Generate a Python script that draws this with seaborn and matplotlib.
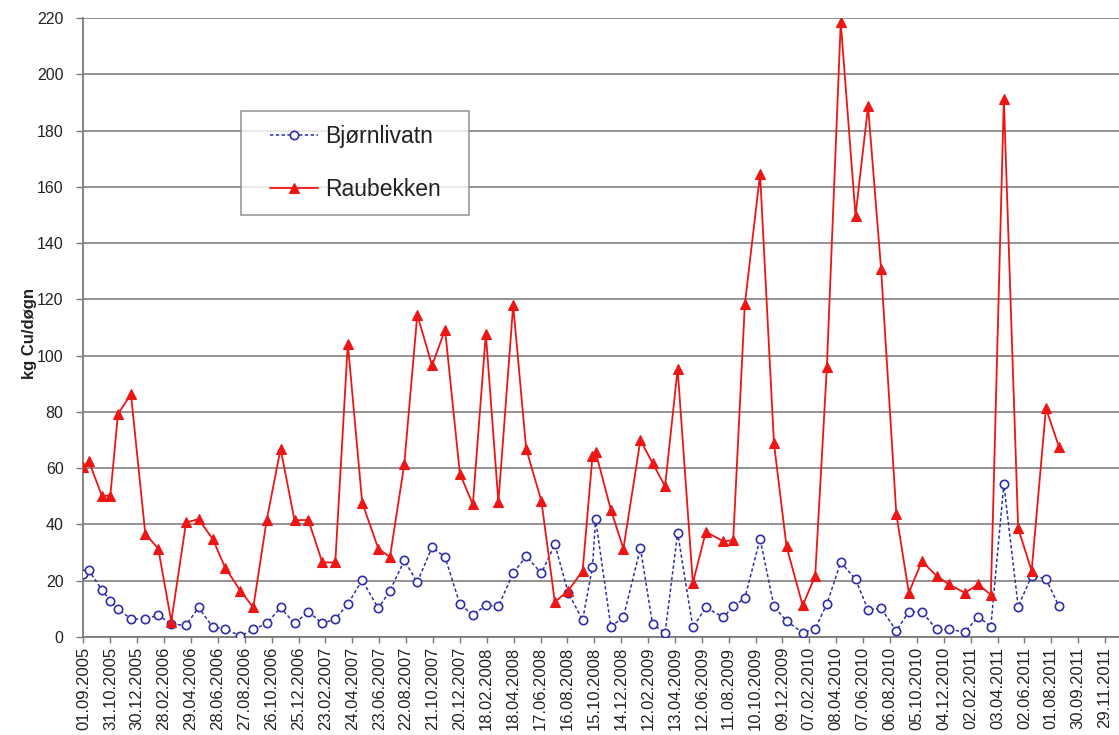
import numpy as np
import pandas as pd
import matplotlib
matplotlib.use("Agg")
import matplotlib.pyplot as plt
from matplotlib.legend_handler import HandlerLine2D
import seaborn as sns

# ---------------- data ----------------
dates = [
    "2005-09-01", "2005-09-13", "2005-10-12", "2005-10-31", "2005-11-17", "2005-12-16",
    "2006-01-17", "2006-02-15", "2006-03-16", "2006-04-18", "2006-05-16", "2006-06-17",
    "2006-07-14", "2006-08-17", "2006-09-15", "2006-10-15", "2006-11-15", "2006-12-16",
    "2007-01-16", "2007-02-16", "2007-03-17", "2007-04-14", "2007-05-16", "2007-06-21",
    "2007-07-17", "2007-08-18", "2007-09-16", "2007-10-19", "2007-11-17", "2007-12-20",
    "2008-01-18", "2008-02-16", "2008-03-15", "2008-04-17", "2008-05-16", "2008-06-19",
    "2008-07-19", "2008-08-18", "2008-09-19", "2008-10-11", "2008-10-18", "2008-11-21",
    "2008-12-19", "2009-01-26", "2009-02-22", "2009-03-22", "2009-04-19", "2009-05-23",
    "2009-06-21", "2009-07-30", "2009-08-21", "2009-09-16", "2009-10-20", "2009-11-20",
    "2009-12-18", "2010-01-23", "2010-02-20", "2010-03-18", "2010-04-18", "2010-05-21",
    "2010-06-18", "2010-07-17", "2010-08-20", "2010-09-17", "2010-10-16", "2010-11-18",
    "2010-12-16", "2011-01-20", "2011-02-19", "2011-03-19", "2011-04-17", "2011-05-19",
    "2011-06-18", "2011-07-20", "2011-08-18",
]

bjornlivatn = [
    22.3, 23.7, 16.8, 12.8, 10.0, 6.4,
    6.4, 7.8, 4.5, 4.2, 10.5, 3.4,
    3.0, 0.3, 2.7, 4.8, 10.5, 4.8,
    9.0, 4.8, 6.4, 11.7, 20.2, 10.2,
    16.5, 27.2, 19.5, 31.9, 28.4, 11.7,
    7.9, 11.2, 10.9, 22.7, 28.7, 22.7,
    32.9, 15.7, 6.0, 25.0, 41.8, 3.7,
    7.0, 31.6, 4.5, 1.5, 37.0, 3.4,
    10.5, 7.0, 10.9, 13.8, 34.9, 10.9,
    5.7, 1.5, 3.0, 11.7, 26.6, 20.5,
    9.7, 10.2, 2.2, 9.0, 9.0, 2.7,
    2.7, 1.8, 7.2, 3.7, 54.3, 10.8,
    21.7, 20.7, 10.9,
]

raubekken = [
    60.5, 62.5, 50.2, 50.2, 79.2, 86.3,
    36.7, 31.4, 5.5, 40.7, 41.9, 34.7,
    24.7, 16.5, 10.5, 41.6, 66.9, 41.5,
    41.6, 26.5, 26.5, 104.3, 47.8, 31.4,
    28.4, 61.4, 114.5, 96.5, 109.2, 58.1,
    47.1, 107.8, 47.9, 117.9, 66.9, 48.3,
    12.4, 16.5, 23.5, 64.3, 65.8, 45.2,
    31.4, 70.0, 61.8, 53.6, 95.3, 19.2,
    37.4, 34.0, 34.4, 118.2, 164.6, 68.8,
    32.2, 11.2, 21.7, 95.8, 218.5, 149.7,
    188.6, 130.9, 43.8, 15.7, 26.9, 21.7,
    18.7, 15.7, 18.7, 15.0, 191.3, 38.6,
    23.5, 81.3, 67.6,
]

x_tick_labels = [
    "01.09.2005", "31.10.2005", "30.12.2005", "28.02.2006", "29.04.2006", "28.06.2006",
    "27.08.2006", "26.10.2006", "25.12.2006", "23.02.2007", "24.04.2007", "23.06.2007",
    "22.08.2007", "21.10.2007", "20.12.2007", "18.02.2008", "18.04.2008", "17.06.2008",
    "16.08.2008", "15.10.2008", "14.12.2008", "12.02.2009", "13.04.2009", "12.06.2009",
    "11.08.2009", "10.10.2009", "09.12.2009", "07.02.2010", "08.04.2010", "07.06.2010",
    "06.08.2010", "05.10.2010", "04.12.2010", "02.02.2011", "03.04.2011", "02.06.2011",
    "01.08.2011", "30.09.2011", "29.11.2011",
]
y_ticks = [0, 20, 40, 60, 80, 100, 120, 140, 160, 180, 200, 220]

series_names = ["Bjørnlivatn", "Raubekken"]
y_label = "kg Cu/døgn"

# ---------------- styling ----------------
BLUE = "#2e2eaa"
RED = "#ee1515"
GRID = "#8a8a8a"

sns.set_theme(style="white")
plt.rcParams["font.family"] = ["Liberation Sans", "DejaVu Sans"]

W, H = 1119, 735
fig = plt.figure(figsize=(W / 100, H / 100), dpi=100)
fig.patch.set_facecolor("white")
left_px, right_px, top_px, bottom_px = 83, 1119, 18, 637
ax = fig.add_axes([left_px / W, (H - bottom_px) / H,
                   (right_px - left_px) / W, (bottom_px - top_px) / H])
ax.set_facecolor("white")

df = pd.DataFrame({
    "date": pd.to_datetime(dates),
    series_names[0]: bjornlivatn,
    series_names[1]: raubekken,
})

sns.lineplot(data=df, x="date", y=series_names[0], ax=ax, color=BLUE,
             linestyle=(0, (2.2, 1.6)), linewidth=1.1, marker="o", markersize=6,
             markerfacecolor="white", markeredgecolor=BLUE, markeredgewidth=1.2,
             label=series_names[0], errorbar=None, sort=False, zorder=3)
sns.lineplot(data=df, x="date", y=series_names[1], ax=ax, color=RED,
             linewidth=1.3, marker="^", markersize=7, markerfacecolor=RED,
             markeredgecolor=RED, markeredgewidth=0.8,
             label=series_names[1], errorbar=None, sort=False, zorder=4)

# axes
start = pd.Timestamp("2005-09-01")
ax.set_xlim(start - pd.Timedelta(days=1), start + pd.Timedelta(days=2311))
ax.set_ylim(0, 220)
ax.set_yticks(y_ticks)
ax.set_yticklabels([str(v) for v in y_ticks])
tick_pos = pd.to_datetime(x_tick_labels, format="%d.%m.%Y")
ax.set_xticks(tick_pos)
ax.set_xticklabels(x_tick_labels, rotation=90)

ax.yaxis.grid(True, color=GRID, linewidth=1.3)
ax.xaxis.grid(False)
ax.set_axisbelow(True)

for s in ["top", "right"]:
    ax.spines[s].set_visible(False)
for s in ["left", "bottom"]:
    ax.spines[s].set_color("#7a7a7a")
    ax.spines[s].set_linewidth(1.3)

ax.tick_params(axis="x", bottom=True, direction="out", length=4, width=1,
               color="#7a7a7a", labelsize=12, labelcolor="#222222", pad=3)
ax.tick_params(axis="y", left=True, direction="out", length=5, width=1,
               color="#7a7a7a", labelsize=11.5, labelcolor="#222222", pad=9)

ax.set_xlabel("")
ax.set_ylabel(y_label, fontsize=12, fontweight="bold", color="#222222")
ax.yaxis.set_label_coords((37 - left_px) / (right_px - left_px), 0.49)

# legend
fs = 16.5
fs_px = fs * 100 / 72
leg = ax.legend(loc="upper left",
                bbox_to_anchor=(241 / W, 1 - 213 / H, 228 / W, 102 / H),
                bbox_transform=fig.transFigure, mode="expand",
                frameon=True, fancybox=False, shadow=False, fontsize=fs,
                borderpad=0.6, handlelength=(318 - 241 - 0.6 * fs_px) / fs_px,
                handletextpad=0.3, labelspacing=1.31, numpoints=1,
                borderaxespad=0,
                handler_map={plt.Line2D: HandlerLine2D(xpad=(270 - 241 - 0.6 * fs_px) / fs_px)})
leg.get_frame().set_edgecolor("#808080")
leg.get_frame().set_linewidth(1.2)
for t in leg.get_texts():
    t.set_color("#222222")

fig.savefig("out.png", dpi=100, facecolor="white")
